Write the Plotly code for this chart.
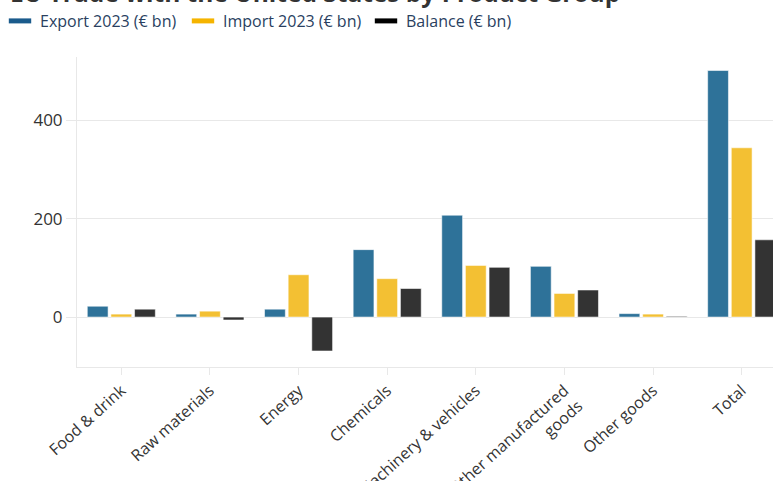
import plotly.graph_objects as go

categories = ["Food & drink", "Raw materials", "Energy", "Chemicals",
              "Machinery & vehicles", "Other manufactured<br>goods",
              "Other goods", "Total"]
export_2023 = [22, 6, 16, 137, 207, 103, 7, 501]
import_2023 = [6, 12, 86, 78, 105, 48, 6, 344]
balance = [16, -6, -69, 58, 101, 55, 1.5, 157]

series_names = ["Export 2023 (€ bn)", "Import 2023 (€ bn)", "Balance (€ bn)"]
bar_colors = ["#2E7299", "#F3C033", "#333333"]
legend_colors = ["#1B5B8C", "#F5B400", "#000000"]
y_ticks = [0, 200, 400]

W, H = 806, 520
fig = go.Figure()
for name, vals, col in zip(series_names, [export_2023, import_2023, balance], bar_colors):
    fig.add_trace(go.Bar(
        x=categories, y=vals, name=name, showlegend=False,
        marker=dict(color=col, line=dict(color="rgba(255,255,255,0.55)", width=1)),
    ))
# legend swatches (flat rectangles like the reference)
for name, col in zip(series_names, legend_colors):
    fig.add_trace(go.Scatter(
        x=[None], y=[None], mode="markers", name=name, hoverinfo="skip",
        marker=dict(symbol="line-ew", size=16, color=col, line=dict(color=col, width=5)),
    ))

grid = "#e8e8e8"
fig.update_layout(
    template="none",
    width=W, height=H,
    margin=dict(l=77, r=20, t=57, b=153, pad=0),
    paper_bgcolor="white", plot_bgcolor="white",
    font=dict(family="Open Sans", size=16, color="#333333"),
    barmode="group", bargap=0.2, bargroupgap=0.12,
    title=dict(text="EU Trade with the United States by Product Group",
               font=dict(family="Open Sans", size=24.5, color="#333333", weight="bold"),
               xref="container", x=10 / W, xanchor="left",
               yref="container", y=1 - 2 / H, yanchor="bottom"),
    legend=dict(orientation="h", xref="container", x=0, xanchor="left",
                yref="container", y=1 - 21 / H, yanchor="middle",
                font=dict(family="Open Sans", size=16, color="#2a3f5f"),
                bgcolor="rgba(0,0,0,0)", entrywidth=138, entrywidthmode="pixels",
                traceorder="normal"),
    xaxis=dict(type="category", range=[-0.5, 7.5], showgrid=False, zeroline=False,
               showline=True, linecolor=grid, linewidth=1,
               ticks="outside", ticklen=7, tickcolor=grid,
               tickangle=-42, tickfont=dict(size=16, color="#333333"), automargin=False),
    yaxis=dict(range=[-101.5, 528.5], tickvals=y_ticks, showgrid=True, gridcolor=grid,
               zeroline=True, zerolinecolor=grid, zerolinewidth=1,
               showline=True, linecolor=grid, linewidth=1,
               ticks="outside", ticklen=10, tickcolor=grid,
               tickfont=dict(size=17, color="#333333"), automargin=False),
)

fig.write_html("out.html", config={"displayModeBar": False},
               post_script="document.body.style.margin='0';document.body.style.overflow='hidden';")
